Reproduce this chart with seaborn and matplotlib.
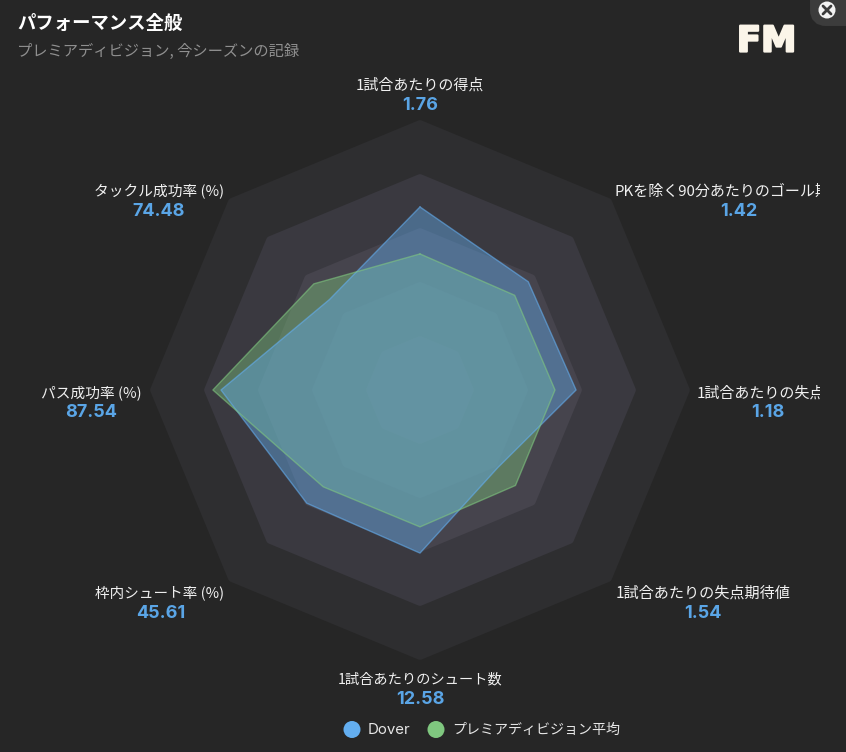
import numpy as np
import pandas as pd
import seaborn as sns
import matplotlib
matplotlib.use("Agg")
import matplotlib.pyplot as plt
import matplotlib.patheffects as pe
from matplotlib.patches import Circle, FancyBboxPatch, Rectangle

metrics = ["1試合あたりの得点", "PKを除く90分あたりのゴール期待値", "1試合あたりの失点数",
           "1試合あたりの失点期待値", "1試合あたりのシュート数", "枠内シュート率 (%)",
           "パス成功率 (%)", "タックル成功率 (%)"]
shown_values = ["1.76", "1.42", "1.18", "1.54", "12.58", "45.61", "87.54", "74.48"]
# position of each metric on the shared 0-100 radar scale
dover_scale = [67.8, 56.7, 57.8, 40.7, 60.4, 59.3, 73.7, 47.4]
league_scale = [50.4, 49.6, 50.0, 50.0, 50.7, 50.7, 76.7, 55.6]
ring_levels = [100, 80, 60, 40, 20]
ring_colors = ["#2e2e30", "#3a3940", "#46444d", "#4c4a55", "#52505b"]
title = "パフォーマンス全般"
subtitle = "プレミアディビジョン, 今シーズンの記録"
series_names = ["Dover", "プレミアディビジョン平均"]

BG = "#262626"
BLUE = "#63aef0"
GREEN = "#7fc77f"
W, H = 846, 752

sns.set_theme(style="dark", rc={"figure.facecolor": BG, "savefig.facecolor": BG})
plt.rcParams["font.family"] = ["Noto Sans CJK JP", "DejaVu Sans"]

fig = plt.figure(figsize=(W / 100, H / 100), dpi=100)
cx, cy, R = 420, 390, 270
ax = fig.add_axes([(cx - R) / W, (H - cy - R) / H, 2 * R / W, 2 * R / H], projection="polar")
ax.set_theta_zero_location("N")
ax.set_theta_direction(-1)
ax.set_ylim(0, 100)
ax.axis("off")
ax.patch.set_alpha(0)

n = len(metrics)
theta = np.arange(n) * 2 * np.pi / n
closed = np.append(theta, theta[0])

for lev, col in zip(ring_levels, ring_colors):
    ax.fill(closed, np.full(n + 1, lev - 1.6), facecolor=col, edgecolor=col, lw=6,
            joinstyle="round", zorder=1)

frames = []
for name, vals in zip(series_names, [dover_scale, league_scale]):
    frames.append(pd.DataFrame({"theta": closed, "r": vals + vals[:1], "series": name}))
df = pd.concat(frames, ignore_index=True)

# league drawn first, Dover on top
for name, col in [(series_names[1], GREEN), (series_names[0], BLUE)]:
    sub = df[df.series == name]
    ax.fill(sub.theta, sub.r, color=col, alpha=0.42, lw=0, zorder=3)
sns.lineplot(data=df, x="theta", y="r", hue="series", palette=[BLUE, GREEN],
             hue_order=series_names, sort=False, estimator=None, legend=False,
             lw=1.0, alpha=0.6, ax=ax, zorder=4)
ax.set_xlabel("")
ax.set_ylabel("")
ax.set_ylim(0, 100)

# overlay in pixel coordinates for the text, logo and legend
ov = fig.add_axes([0, 0, 1, 1])
ov.set_xlim(0, W)
ov.set_ylim(H, 0)
ov.axis("off")
ov.patch.set_alpha(0)

ov.text(17, 23, title, color="white", fontsize=13.2, fontweight="bold", va="center", ha="left")
ov.text(17, 51, subtitle, color="#8f8f8f", fontsize=11, va="center", ha="left")

label_xy = [(420, 85), (717, 192), (768, 393), (703, 593), (420, 679), (160, 593), (91, 393), (159, 192)]
label_fs = [10.8, 10.8, 10.8, 10.9, 10.3, 10.5, 10.6, 10.6]
value_xy = [(420, 105.5), (739, 211.5), (768, 412.5), (703, 613.5), (420, 699.5), (161, 613.5), (91, 412.5), (159, 211.5)]
clip = Rectangle((0, 0), 820, H, transform=ov.transData)
for m, v, (lx, ly), fs, (vx, vy) in zip(metrics, shown_values, label_xy, label_fs, value_xy):
    if lx == 717:
        t = ov.text(615, ly, m, color="#f0f0f0", fontsize=fs, ha="left", va="center")
    elif lx == 768:
        t = ov.text(697, ly, m, color="#f0f0f0", fontsize=fs, ha="left", va="center")
    else:
        t = ov.text(lx, ly, m, color="#f0f0f0", fontsize=fs, ha="center", va="center")
    t.set_clip_path(clip)
    t.set_clip_on(True)
    ov.text(vx, vy, v, color="#5aa5e6", fontsize=13, fontweight="bold", ha="center", va="center",
            family=["Inter", "DejaVu Sans"])

# legend
ov.add_patch(Circle((352, 729.5), 8.5, color=BLUE, lw=0))
ov.add_patch(Circle((436, 729.5), 8.5, color=GREEN, lw=0))
ov.text(368, 729.5, series_names[0], color="#e6e6e6", fontsize=10.8, ha="left", va="center",
        family=["Inter", "DejaVu Sans"])
ov.text(452, 729.5, series_names[1], color="#e6e6e6", fontsize=10.1, ha="left", va="center")

# logo and close button
ov.text(766.5, 41.5, "FM", color="#fbf5e9", fontsize=25.5, fontweight="bold", ha="center", va="center",
        family=["DejaVu Sans"],
        path_effects=[pe.withStroke(linewidth=1.6, foreground="#fbf5e9")])
ov.add_patch(FancyBboxPatch((818, -20), 40, 38, boxstyle="round,pad=0,rounding_size=8",
                            fc="#3c3c3c", ec="#3c3c3c", lw=11.5, zorder=1))
ov.add_patch(Circle((827, 10), 8.5, color="#f2f2f2", lw=0, zorder=2))
ov.plot([823, 831], [6, 14], color="#3c3c3c", lw=2, zorder=3)
ov.plot([831, 823], [6, 14], color="#3c3c3c", lw=2, zorder=3)
ov.set_xlim(0, W)
ov.set_ylim(H, 0)

fig.savefig("out.png", dpi=100)
